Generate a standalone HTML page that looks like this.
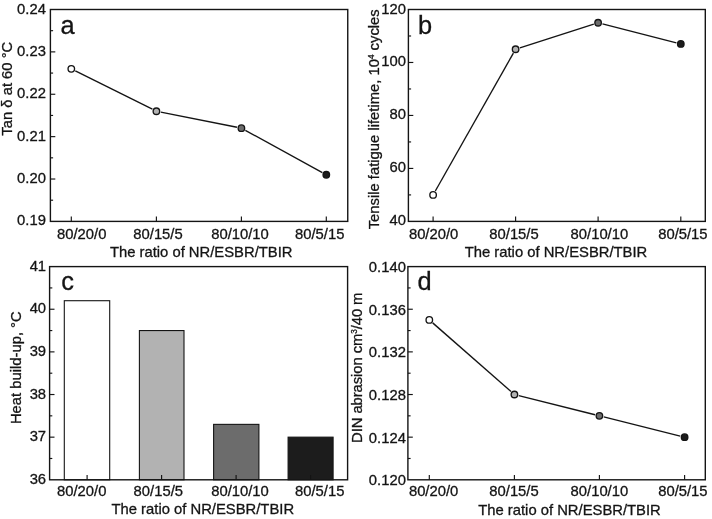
<!DOCTYPE html>
<html><head><meta charset="utf-8"><title>Figure</title>
<style>
html,body{margin:0;padding:0;background:#fff;}
svg{display:block;font-family:"Liberation Sans",sans-serif;fill:#141414;}
text{stroke:#141414;stroke-width:0.3px;}
</style></head><body>
<svg width="712" height="519" viewBox="0 0 712 519">
<rect x="0" y="0" width="712" height="519" fill="#fff" stroke="none"/>
<rect x="50.4" y="9.5" width="297.35" height="211.9" fill="none" stroke="#141414" stroke-width="1.4"/>
<text x="45.9" y="225.40" text-anchor="end" font-size="14.8">0.19</text>
<line x1="50.4" y1="200.21" x2="53.1" y2="200.21" stroke="#141414" stroke-width="1.15"/>
<line x1="50.4" y1="179.02" x2="55.3" y2="179.02" stroke="#141414" stroke-width="1.15"/>
<text x="45.9" y="183.02" text-anchor="end" font-size="14.8">0.20</text>
<line x1="50.4" y1="157.83" x2="53.1" y2="157.83" stroke="#141414" stroke-width="1.15"/>
<line x1="50.4" y1="136.64" x2="55.3" y2="136.64" stroke="#141414" stroke-width="1.15"/>
<text x="45.9" y="140.64" text-anchor="end" font-size="14.8">0.21</text>
<line x1="50.4" y1="115.45" x2="53.1" y2="115.45" stroke="#141414" stroke-width="1.15"/>
<line x1="50.4" y1="94.26" x2="55.3" y2="94.26" stroke="#141414" stroke-width="1.15"/>
<text x="45.9" y="98.26" text-anchor="end" font-size="14.8">0.22</text>
<line x1="50.4" y1="73.07" x2="53.1" y2="73.07" stroke="#141414" stroke-width="1.15"/>
<line x1="50.4" y1="51.88" x2="55.3" y2="51.88" stroke="#141414" stroke-width="1.15"/>
<text x="45.9" y="55.88" text-anchor="end" font-size="14.8">0.23</text>
<line x1="50.4" y1="30.69" x2="53.1" y2="30.69" stroke="#141414" stroke-width="1.15"/>
<text x="45.9" y="13.50" text-anchor="end" font-size="14.8">0.24</text>
<line x1="71.3" y1="221.4" x2="71.3" y2="216.5" stroke="#141414" stroke-width="1.15"/>
<text x="81.7" y="239.3" text-anchor="middle" font-size="14.8">80/20/0</text>
<line x1="156.4" y1="221.4" x2="156.4" y2="216.5" stroke="#141414" stroke-width="1.15"/>
<text x="158" y="239.3" text-anchor="middle" font-size="14.8">80/15/5</text>
<line x1="241.4" y1="221.4" x2="241.4" y2="216.5" stroke="#141414" stroke-width="1.15"/>
<text x="240" y="239.3" text-anchor="middle" font-size="14.8">80/10/10</text>
<line x1="326.3" y1="221.4" x2="326.3" y2="216.5" stroke="#141414" stroke-width="1.15"/>
<text x="319.7" y="239.3" text-anchor="middle" font-size="14.8">80/5/15</text>
<text x="201.2" y="256.5" text-anchor="middle" font-size="14.8">The ratio of NR/ESBR/TBIR</text>
<text transform="translate(12.4,88.7) rotate(-90)" text-anchor="middle" letter-spacing="0.0" font-size="14.8">Tan δ at 60 °C</text>
<line x1="75.33" y1="70.84" x2="152.37" y2="109.21" stroke="#141414" stroke-width="1.38"/>
<line x1="160.81" y1="112.09" x2="236.99" y2="127.28" stroke="#141414" stroke-width="1.38"/>
<line x1="245.34" y1="130.33" x2="322.36" y2="172.62" stroke="#141414" stroke-width="1.38"/>
<circle cx="71.3" cy="68.83" r="3.25" fill="#ffffff" stroke="#141414" stroke-width="1.35"/>
<circle cx="156.4" cy="111.21" r="3.25" fill="#b2b2b2" stroke="#141414" stroke-width="1.35"/>
<circle cx="241.4" cy="128.16" r="3.25" fill="#6c6c6c" stroke="#141414" stroke-width="1.35"/>
<circle cx="326.3" cy="174.78" r="3.25" fill="#1c1c1c" stroke="#141414" stroke-width="1.35"/>
<text x="60.5" y="34.2" font-size="25.4">a</text>
<rect x="408.4" y="9.5" width="296.9" height="211.9" fill="none" stroke="#141414" stroke-width="1.4"/>
<text x="405.9" y="225.40" text-anchor="end" font-size="14.8">40</text>
<line x1="408.4" y1="194.91" x2="411.09999999999997" y2="194.91" stroke="#141414" stroke-width="1.15"/>
<line x1="408.4" y1="168.43" x2="413.29999999999995" y2="168.43" stroke="#141414" stroke-width="1.15"/>
<text x="405.9" y="172.43" text-anchor="end" font-size="14.8">60</text>
<line x1="408.4" y1="141.94" x2="411.09999999999997" y2="141.94" stroke="#141414" stroke-width="1.15"/>
<line x1="408.4" y1="115.45" x2="413.29999999999995" y2="115.45" stroke="#141414" stroke-width="1.15"/>
<text x="405.9" y="119.45" text-anchor="end" font-size="14.8">80</text>
<line x1="408.4" y1="88.96" x2="411.09999999999997" y2="88.96" stroke="#141414" stroke-width="1.15"/>
<line x1="408.4" y1="62.47" x2="413.29999999999995" y2="62.47" stroke="#141414" stroke-width="1.15"/>
<text x="405.9" y="66.47" text-anchor="end" font-size="14.8">100</text>
<line x1="408.4" y1="35.99" x2="411.09999999999997" y2="35.99" stroke="#141414" stroke-width="1.15"/>
<text x="405.9" y="13.50" text-anchor="end" font-size="14.8">120</text>
<line x1="433.1" y1="221.4" x2="433.1" y2="216.5" stroke="#141414" stroke-width="1.15"/>
<text x="433.6" y="239.3" text-anchor="middle" font-size="14.8">80/20/0</text>
<line x1="515.6" y1="221.4" x2="515.6" y2="216.5" stroke="#141414" stroke-width="1.15"/>
<text x="514" y="239.3" text-anchor="middle" font-size="14.8">80/15/5</text>
<line x1="598.1" y1="221.4" x2="598.1" y2="216.5" stroke="#141414" stroke-width="1.15"/>
<text x="599.4" y="239.3" text-anchor="middle" font-size="14.8">80/10/10</text>
<line x1="680.8" y1="221.4" x2="680.8" y2="216.5" stroke="#141414" stroke-width="1.15"/>
<text x="682.9" y="239.3" text-anchor="middle" font-size="14.8">80/5/15</text>
<text x="556.0" y="257.2" text-anchor="middle" font-size="14.8">The ratio of NR/ESBR/TBIR</text>
<text transform="translate(379,119.3) rotate(-90)" text-anchor="middle" letter-spacing="0.0" font-size="14.8">Tensile fatigue lifetime, 10<tspan font-size="8.2" dy="-5.4">4</tspan><tspan dy="5.4"> cycles</tspan></text>
<line x1="435.32" y1="191.00" x2="513.38" y2="53.15" stroke="#141414" stroke-width="1.38"/>
<line x1="519.88" y1="47.86" x2="593.82" y2="24.12" stroke="#141414" stroke-width="1.38"/>
<line x1="602.46" y1="23.86" x2="676.44" y2="42.82" stroke="#141414" stroke-width="1.38"/>
<circle cx="433.1" cy="194.91" r="3.25" fill="#ffffff" stroke="#141414" stroke-width="1.35"/>
<circle cx="515.6" cy="49.23" r="3.25" fill="#b2b2b2" stroke="#141414" stroke-width="1.35"/>
<circle cx="598.1" cy="22.74" r="3.25" fill="#6c6c6c" stroke="#141414" stroke-width="1.35"/>
<circle cx="680.8" cy="43.93" r="3.25" fill="#1c1c1c" stroke="#141414" stroke-width="1.35"/>
<text x="417.9" y="34.2" font-size="25.4">b</text>
<rect x="64.3" y="300.71" width="45.40" height="179.09" fill="#ffffff" stroke="#141414" stroke-width="1.1"/>
<rect x="139.4" y="330.56" width="44.60" height="149.24" fill="#b2b2b2" stroke="#141414" stroke-width="1.1"/>
<rect x="213.6" y="424.37" width="45.30" height="55.43" fill="#6c6c6c" stroke="#141414" stroke-width="1.1"/>
<rect x="288.1" y="437.16" width="45.00" height="42.64" fill="#1c1c1c" stroke="#141414" stroke-width="1.1"/>
<rect x="49.6" y="266.6" width="298.0" height="213.2" fill="none" stroke="#141414" stroke-width="1.4"/>
<text x="46.1" y="483.80" text-anchor="end" font-size="14.8">36</text>
<line x1="49.6" y1="458.48" x2="52.300000000000004" y2="458.48" stroke="#141414" stroke-width="1.15"/>
<line x1="49.6" y1="437.16" x2="54.5" y2="437.16" stroke="#141414" stroke-width="1.15"/>
<text x="46.1" y="441.16" text-anchor="end" font-size="14.8">37</text>
<line x1="49.6" y1="415.84" x2="52.300000000000004" y2="415.84" stroke="#141414" stroke-width="1.15"/>
<line x1="49.6" y1="394.52" x2="54.5" y2="394.52" stroke="#141414" stroke-width="1.15"/>
<text x="46.1" y="398.52" text-anchor="end" font-size="14.8">38</text>
<line x1="49.6" y1="373.20" x2="52.300000000000004" y2="373.20" stroke="#141414" stroke-width="1.15"/>
<line x1="49.6" y1="351.88" x2="54.5" y2="351.88" stroke="#141414" stroke-width="1.15"/>
<text x="46.1" y="355.88" text-anchor="end" font-size="14.8">39</text>
<line x1="49.6" y1="330.56" x2="52.300000000000004" y2="330.56" stroke="#141414" stroke-width="1.15"/>
<line x1="49.6" y1="309.24" x2="54.5" y2="309.24" stroke="#141414" stroke-width="1.15"/>
<text x="46.1" y="313.24" text-anchor="end" font-size="14.8">40</text>
<line x1="49.6" y1="287.92" x2="52.300000000000004" y2="287.92" stroke="#141414" stroke-width="1.15"/>
<text x="46.1" y="270.60" text-anchor="end" font-size="14.8">41</text>
<line x1="87.1" y1="479.8" x2="87.1" y2="474.90000000000003" stroke="#141414" stroke-width="1.15"/>
<text x="81.7" y="496.2" text-anchor="middle" font-size="14.8">80/20/0</text>
<line x1="161.6" y1="479.8" x2="161.6" y2="474.90000000000003" stroke="#141414" stroke-width="1.15"/>
<text x="158.3" y="496.2" text-anchor="middle" font-size="14.8">80/15/5</text>
<line x1="236.1" y1="479.8" x2="236.1" y2="474.90000000000003" stroke="#141414" stroke-width="1.15"/>
<text x="240" y="496.2" text-anchor="middle" font-size="14.8">80/10/10</text>
<line x1="310.6" y1="479.8" x2="310.6" y2="474.90000000000003" stroke="#141414" stroke-width="1.15"/>
<text x="319.7" y="496.2" text-anchor="middle" font-size="14.8">80/5/15</text>
<text x="202.8" y="514.3" text-anchor="middle" font-size="14.8">The ratio of NR/ESBR/TBIR</text>
<text transform="translate(21.2,367.7) rotate(-90)" text-anchor="middle" letter-spacing="0.0" font-size="14.8">Heat build-up, °C</text>
<text x="61.35" y="290.2" font-size="25.4">c</text>
<rect x="407.9" y="266.6" width="297.4" height="213.2" fill="none" stroke="#141414" stroke-width="1.4"/>
<text x="405.9" y="485.20" text-anchor="end" font-size="14.8">0.120</text>
<line x1="407.9" y1="458.48" x2="410.59999999999997" y2="458.48" stroke="#141414" stroke-width="1.15"/>
<line x1="407.9" y1="437.16" x2="412.79999999999995" y2="437.16" stroke="#141414" stroke-width="1.15"/>
<text x="405.9" y="442.56" text-anchor="end" font-size="14.8">0.124</text>
<line x1="407.9" y1="415.84" x2="410.59999999999997" y2="415.84" stroke="#141414" stroke-width="1.15"/>
<line x1="407.9" y1="394.52" x2="412.79999999999995" y2="394.52" stroke="#141414" stroke-width="1.15"/>
<text x="405.9" y="399.92" text-anchor="end" font-size="14.8">0.128</text>
<line x1="407.9" y1="373.20" x2="410.59999999999997" y2="373.20" stroke="#141414" stroke-width="1.15"/>
<line x1="407.9" y1="351.88" x2="412.79999999999995" y2="351.88" stroke="#141414" stroke-width="1.15"/>
<text x="405.9" y="357.28" text-anchor="end" font-size="14.8">0.132</text>
<line x1="407.9" y1="330.56" x2="410.59999999999997" y2="330.56" stroke="#141414" stroke-width="1.15"/>
<line x1="407.9" y1="309.24" x2="412.79999999999995" y2="309.24" stroke="#141414" stroke-width="1.15"/>
<text x="405.9" y="314.64" text-anchor="end" font-size="14.8">0.136</text>
<line x1="407.9" y1="287.92" x2="410.59999999999997" y2="287.92" stroke="#141414" stroke-width="1.15"/>
<text x="405.9" y="272.00" text-anchor="end" font-size="14.8">0.140</text>
<line x1="429.3" y1="479.8" x2="429.3" y2="474.90000000000003" stroke="#141414" stroke-width="1.15"/>
<text x="433.6" y="496.2" text-anchor="middle" font-size="14.8">80/20/0</text>
<line x1="514.4" y1="479.8" x2="514.4" y2="474.90000000000003" stroke="#141414" stroke-width="1.15"/>
<text x="514" y="496.2" text-anchor="middle" font-size="14.8">80/15/5</text>
<line x1="599.4" y1="479.8" x2="599.4" y2="474.90000000000003" stroke="#141414" stroke-width="1.15"/>
<text x="599.4" y="496.2" text-anchor="middle" font-size="14.8">80/10/10</text>
<line x1="684.6" y1="479.8" x2="684.6" y2="474.90000000000003" stroke="#141414" stroke-width="1.15"/>
<text x="682.9" y="496.2" text-anchor="middle" font-size="14.8">80/5/15</text>
<text x="569.5" y="514.5" text-anchor="middle" font-size="14.8">The ratio of NR/ESBR/TBIR</text>
<text transform="translate(362.2,367.75) rotate(-90)" text-anchor="middle" letter-spacing="-0.07" font-size="14.8">DIN abrasion cm<tspan font-size="8.2" dy="-5.4">3</tspan><tspan dy="5.4">/40 m</tspan></text>
<line x1="432.68" y1="322.87" x2="511.02" y2="391.55" stroke="#141414" stroke-width="1.38"/>
<line x1="518.76" y1="395.61" x2="595.04" y2="414.75" stroke="#141414" stroke-width="1.38"/>
<line x1="603.77" y1="416.93" x2="680.23" y2="436.07" stroke="#141414" stroke-width="1.38"/>
<circle cx="429.3" cy="319.90" r="3.25" fill="#ffffff" stroke="#141414" stroke-width="1.35"/>
<circle cx="514.4" cy="394.52" r="3.25" fill="#b2b2b2" stroke="#141414" stroke-width="1.35"/>
<circle cx="599.4" cy="415.84" r="3.25" fill="#6c6c6c" stroke="#141414" stroke-width="1.35"/>
<circle cx="684.6" cy="437.16" r="3.25" fill="#1c1c1c" stroke="#141414" stroke-width="1.35"/>
<text x="417.6" y="290.2" font-size="25.4">d</text>
</svg>
</body></html>
